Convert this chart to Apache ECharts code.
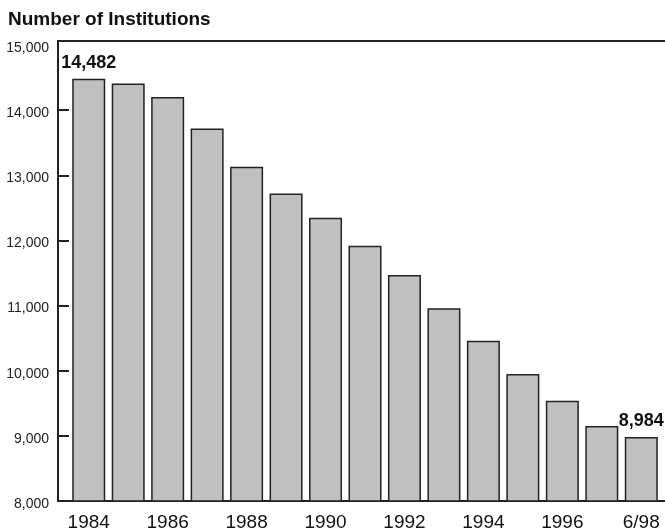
<!DOCTYPE html>
<html>
<head>
<meta charset="utf-8">
<script src="https://cdn.jsdelivr.net/npm/echarts@6/dist/echarts.min.js"></script>
<style>
html,body{margin:0;padding:0;background:#fff;}
#chart{width:665px;height:529px;}
</style>
</head>
<body>
<div id="chart"></div>
<script>
const categories = ['1984','1985','1986','1987','1988','1989','1990','1991','1992','1993','1994','1995','1996','1997','6/98'];
const institutions = [14482,14410,14200,13720,13130,12720,12350,11920,11470,10960,10460,9950,9540,9150,8984];
const labeledIndices = [0, 14];
const yTickValues = [8000,9000,10000,11000,12000,13000,14000,15000];
const yInnerTicks = [9000,10000,11000,12000,13000,14000];

const FONT = '"Liberation Sans", Arial, sans-serif';
const fmt = v => String(v).replace(/\B(?=(\d{3})+(?!\d))/g, ',');

const barData = institutions.map((v, i) => ({
  value: v,
  label: { show: labeledIndices.includes(i) }
}));

const chart = echarts.init(document.getElementById('chart'), null, { renderer: 'canvas' });
chart.setOption({
  animation: false,
  backgroundColor: '#fff',
  title: {
    text: 'Number of Institutions',
    left: 8, top: 10, padding: 0,
    textStyle: { fontFamily: FONT, fontSize: 19, fontWeight: 'bold', color: '#111' }
  },
  grid: [
    { left: 69, right: 4, top: 45, bottom: 28, outerBoundsMode: 'none', containLabel: false },
    { left: 58, right: 0, top: 41, bottom: 28, outerBoundsMode: 'none', containLabel: false }
  ],
  xAxis: [
    {
      type: 'category', gridIndex: 0, data: categories,
      axisLine: { show: false }, axisTick: { show: false },
      axisLabel: { interval: 1, margin: 12, fontFamily: FONT, fontSize: 19, color: '#111' }
    },
    {
      type: 'value', gridIndex: 1, position: 'bottom', min: 0, max: 1,
      axisLine: { show: true, onZero: false, lineStyle: { color: '#222', width: 2 } },
      axisTick: { show: false }, axisLabel: { show: false }, splitLine: { show: false }
    },
    {
      type: 'value', gridIndex: 1, position: 'top', min: 0, max: 1,
      axisLine: { show: true, onZero: false, lineStyle: { color: '#222', width: 2 } },
      axisTick: { show: false }, axisLabel: { show: false }, splitLine: { show: false }
    }
  ],
  yAxis: [
    {
      type: 'value', gridIndex: 0, min: yTickValues[0], max: yTickValues[yTickValues.length - 1], interval: 1000,
      offset: 11,
      axisLine: { show: false },
      axisTick: { show: true, inside: true, length: 11, customValues: yInnerTicks, lineStyle: { color: '#222', width: 2 } },
      axisLabel: { margin: 9, customValues: yTickValues, formatter: v => fmt(v), fontFamily: FONT, fontSize: 14, color: '#222', verticalAlign: 'top', lineHeight: 6 },
      splitLine: { show: false }
    },
    {
      type: 'value', gridIndex: 1, min: 0, max: 1,
      axisLine: { show: true, onZero: false, lineStyle: { color: '#222', width: 2 } },
      axisTick: { show: false }, axisLabel: { show: false }, splitLine: { show: false }
    }
  ],
  series: [{
    type: 'bar', xAxisIndex: 0, yAxisIndex: 0,
    data: barData,
    barWidth: 33,
    itemStyle: { color: '#c0c0c0', borderColor: '#222', borderWidth: 1.5 },
    label: {
      show: false, position: 'top', distance: 7,
      formatter: p => fmt(p.value),
      fontFamily: FONT, fontSize: 18, fontWeight: 'bold', color: '#111'
    }
  }]
});
</script>
</body>
</html>
